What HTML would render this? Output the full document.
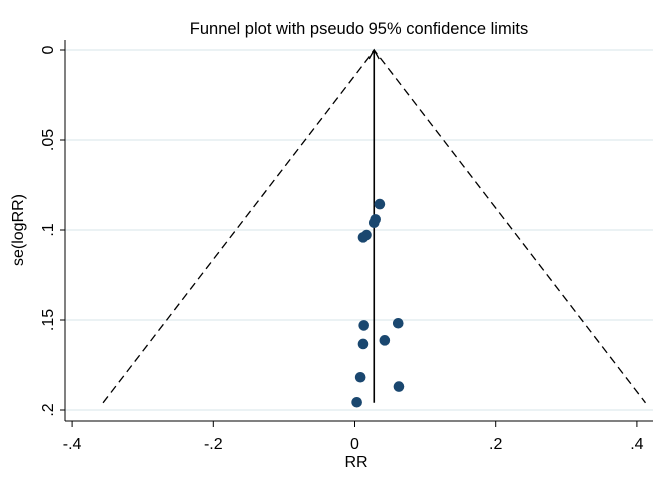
<!DOCTYPE html>
<html><head><meta charset="utf-8"><style>
body{margin:0;background:#fff;}
svg{display:block;font-family:"Liberation Sans",Arial,sans-serif;}
</style></head><body>
<svg id="chart" width="669" height="486">
<text x="359" y="34" font-size="16.5" text-anchor="middle" fill="#000">Funnel plot with pseudo 95% confidence limits</text>
<g id="grid"></g><g id="axes"></g><g id="marks"></g>
<text x="356" y="467" font-size="16" text-anchor="middle">RR</text>
<text transform="translate(23,230) rotate(-90)" font-size="16" text-anchor="middle">se(logRR)</text>
</svg>
<script>
const xTicks=[-0.4,-0.2,0,0.2,0.4];
const xTickLabels=["-.4","-.2","0",".2",".4"];
const yTicks=[0,0.05,0.1,0.15,0.2];
const yTickLabels=["0",".05",".1",".15",".2"];
const effectValues=[0.036,0.030,0.028,0.017,0.012,0.013,0.062,0.012,0.043,0.008,0.063,0.003];
const seValues=[0.0856,0.0941,0.096,0.1028,0.1041,0.153,0.1518,0.1633,0.1613,0.1818,0.187,0.1957];
const pooled=[0.028];
const seMax=[0.196];
const X=v=>354.5+v*706, Y=v=>50+v*1800;
const NS="http://www.w3.org/2000/svg";
function mk(t,a,p){const e=document.createElementNS(NS,t);for(const k in a)e.setAttribute(k,a[k]);p.appendChild(e);return e;}
const grid=document.getElementById('grid'),axes=document.getElementById('axes'),marks=document.getElementById('marks');
yTicks.forEach((v,i)=>{
 const g=mk('line',{x1:65,x2:653,y1:Y(v),y2:Y(v),stroke:'#dfeaee','stroke-width':1.3},grid);
 
 
 mk('line',{x1:60,x2:65,y1:Y(v),y2:Y(v),stroke:'#000'},axes);
 const t=mk('text',{transform:`translate(53,${Y(v)}) rotate(-90)`,'font-size':16,'text-anchor':'middle'},axes);
 t.textContent=yTickLabels[i];
 
 
});
xTicks.forEach((v,i)=>{
 mk('line',{x1:X(v),x2:X(v),y1:421,y2:427,stroke:'#000'},axes);
 const t=mk('text',{x:X(v),y:449,'font-size':16,'text-anchor':'middle'},axes);
 t.textContent=xTickLabels[i];
 
 
});
const ya=mk('line',{x1:65,x2:65,y1:40,y2:421,stroke:'#000'},axes);


const xa=mk('line',{x1:65,x2:653,y1:421,y2:421,stroke:'#000'},axes);


const c=pooled[0],s=seMax[0];
const fl=mk('polyline',{points:`${X(c-1.96*s)},${Y(s)} ${X(c)},${Y(0)} ${X(c+1.96*s)},${Y(s)}`,fill:'none',stroke:'#000','stroke-width':1.3,'stroke-dasharray':'8,5'},marks);


const pl=mk('line',{x1:X(c),x2:X(c),y1:Y(0),y2:Y(s),stroke:'#000','stroke-width':1.6},marks);


const ar=mk('polyline',{points:`${X(c)-5},${Y(0)+9} ${X(c)},${Y(0)} ${X(c)+5},${Y(0)+9}`,fill:'none',stroke:'#000','stroke-width':1.3},marks);


effectValues.forEach((v,i)=>{
 const d=mk('circle',{cx:X(v),cy:Y(seValues[i]),r:5.3,fill:'#1a476f'},marks);
 
 
});
</script>
</body></html>
